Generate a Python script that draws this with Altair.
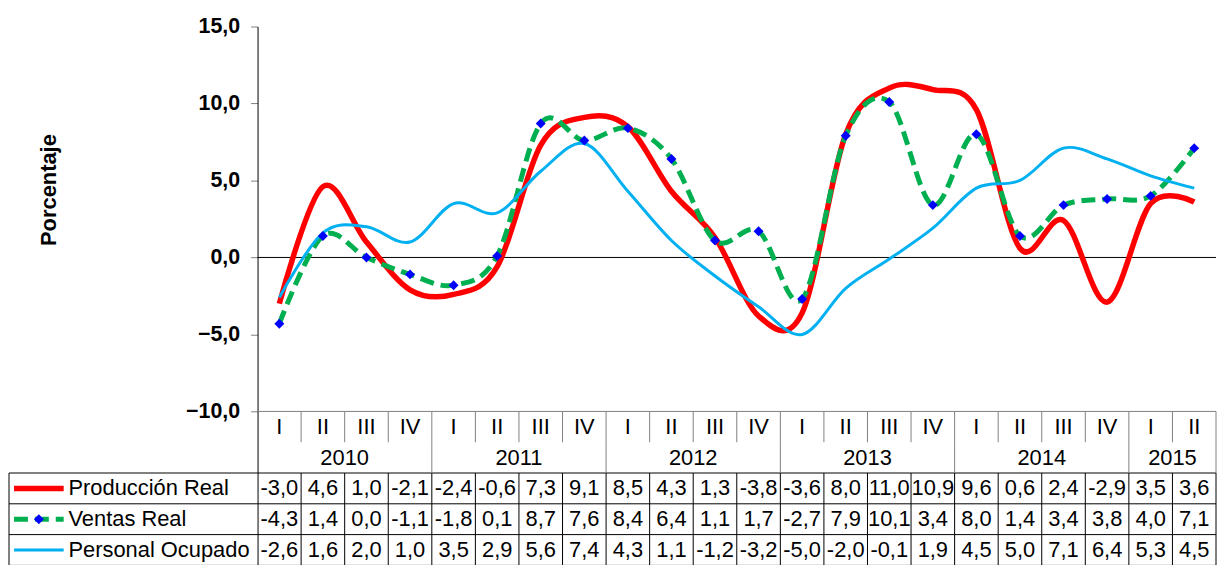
import altair as alt
import pandas as pd

# ---------------- data ----------------
QUARTERS = ["I", "II", "III", "IV"] * 5 + ["I", "II"]
YEARS = ["2010", "2011", "2012", "2013", "2014", "2015"]
YEAR_QUARTERS = [4, 4, 4, 4, 4, 2]
SERIES = ["Producción Real", "Ventas Real", "Personal Ocupado"]
PRODUCCION = [-3.0, 4.6, 1.0, -2.1, -2.4, -0.6, 7.3, 9.1, 8.5, 4.3, 1.3, -3.8,
              -3.6, 8.0, 11.0, 10.9, 9.6, 0.6, 2.4, -2.9, 3.5, 3.6]
VENTAS = [-4.3, 1.4, 0.0, -1.1, -1.8, 0.1, 8.7, 7.6, 8.4, 6.4, 1.1, 1.7,
          -2.7, 7.9, 10.1, 3.4, 8.0, 1.4, 3.4, 3.8, 4.0, 7.1]
PERSONAL = [-2.6, 1.6, 2.0, 1.0, 3.5, 2.9, 5.6, 7.4, 4.3, 1.1, -1.2, -3.2,
            -5.0, -2.0, -0.1, 1.9, 4.5, 5.0, 7.1, 6.4, 5.3, 4.5]
Y_TICKS = [-10, -5, 0, 5, 10, 15]

# ---------------- layout (data units) ----------------
N = len(QUARTERS)
Y_MIN, Y_MAX = -20, 15
AXIS_MIN = -10
ROW_Q, ROW_Y = -11, -13
ROW_S = [-15, -17, -19]
LEFT_EDGE = -5.705
SW_X1, SW_X2 = -5.59, -4.45
LABEL_X = -4.34
FONT = "Liberation Sans"
COLORS = ["#FF0000", "#00B050", "#00B0F0"]
DASH = [14, 7]

xs = alt.Scale(domain=[0, N], nice=False, zero=False)
ys = alt.Scale(domain=[Y_MIN, Y_MAX], nice=False, zero=False)

y_axis = alt.Axis(
    values=Y_TICKS, grid=False, domain=True, domainColor="#000000", domainWidth=1,
    ticks=True, tickColor="#808080", tickSize=7, tickWidth=1,
    labelExpr="replace(format(datum.value, '.1f'), '.', ',')",
    labelFont=FONT, labelFontSize=21.5, labelFontWeight="bold", labelColor="#000000",
    labelPadding=11,
    title="Porcentaje", titleFont=FONT, titleFontSize=22, titleFontWeight="bold",
    titleColor="#000000", titleX=-210, titleY=164, titleBaseline="middle", titleAngle=270,
)


def X(f="x"):
    return alt.X(f"{f}:Q", scale=xs, axis=None)


def Y(f="y"):
    return alt.Y(f"{f}:Q", scale=ys, axis=y_axis)


def fmt(v):
    return f"{v:.1f}".replace(".", ",")


series_vals = [PRODUCCION, VENTAS, PERSONAL]

# line data
line_dfs = []
for s, vals in zip(SERIES, series_vals):
    line_dfs.append(pd.DataFrame({"x": [i + 0.5 for i in range(N)], "y": vals, "s": s}))

# ---------- rules (table grid, zero line) ----------
rules = []
GRAY = "#808080"
BLACK = "#000000"
rules.append(dict(x=0, x2=N, y=0, y2=0, c=BLACK))
rules.append(dict(x=0, x2=N, y=AXIS_MIN, y2=AXIS_MIN, c=GRAY))
for yy in [-14, -16, -18, -20]:
    rules.append(dict(x=LEFT_EDGE, x2=N, y=yy, y2=yy, c=BLACK))
rules.append(dict(x=LEFT_EDGE, x2=LEFT_EDGE, y=-14, y2=-20, c=BLACK))
rules.append(dict(x=N, x2=N, y=-10, y2=-14, c=GRAY))
rules.append(dict(x=N, x2=N, y=-14, y2=-20, c=BLACK))
for i in range(1, N):
    rules.append(dict(x=i, x2=i, y=-10, y2=-12, c=GRAY))
    rules.append(dict(x=i, x2=i, y=-14, y2=-20, c=BLACK))
acc = 0
for q in YEAR_QUARTERS[:-1]:
    acc += q
    rules.append(dict(x=acc, x2=acc, y=-12, y2=-14, c=GRAY))
rules_df = pd.DataFrame(rules)

rule_layer = alt.Chart(rules_df).mark_rule(strokeWidth=1).encode(
    x=X(), x2="x2:Q", y=Y(), y2="y2:Q", color=alt.Color("c:N", scale=None)
)

# ---------- table text ----------
texts = []
for i, q in enumerate(QUARTERS):
    texts.append(dict(x=i + 0.5, y=ROW_Q, t=q))
start = 0
for yr, q in zip(YEARS, YEAR_QUARTERS):
    texts.append(dict(x=start + q / 2, y=ROW_Y, t=yr))
    start += q
for row, vals in zip(ROW_S, series_vals):
    for i, v in enumerate(vals):
        texts.append(dict(x=i + 0.5, y=row, t=fmt(v)))
text_df = pd.DataFrame(texts)
text_layer = alt.Chart(text_df).mark_text(
    font=FONT, fontSize=22, align="center", baseline="middle", color="#000000"
).encode(x=X(), y=Y(), text="t:N")

names_df = pd.DataFrame({"x": [LABEL_X] * 3, "y": ROW_S, "t": SERIES})
names_layer = alt.Chart(names_df).mark_text(
    font=FONT, fontSize=22, align="left", baseline="middle", color="#000000"
).encode(x=X(), y=Y(), text="t:N")

# ---------- legend swatches ----------
sw = [pd.DataFrame({"x": [SW_X1], "x2": [SW_X2], "y": [r]}) for r in ROW_S]
sw_red = alt.Chart(sw[0]).mark_rule(color=COLORS[0], strokeWidth=5.5).encode(x=X(), x2="x2:Q", y=Y())
sw_green = alt.Chart(sw[1]).mark_rule(color=COLORS[1], strokeWidth=5, strokeDash=DASH).encode(x=X(), x2="x2:Q", y=Y())
sw_pt = alt.Chart(pd.DataFrame({"x": [(SW_X1 + SW_X2) / 2], "y": [ROW_S[1]]})).mark_point(
    shape="diamond", filled=True, size=100, color="#0000FF", opacity=1
).encode(x=X(), y=Y())
sw_cyan = alt.Chart(sw[2]).mark_rule(color=COLORS[2], strokeWidth=3).encode(x=X(), x2="x2:Q", y=Y())

# ---------- lines ----------
red_line = alt.Chart(line_dfs[0]).mark_line(
    color=COLORS[0], strokeWidth=5.5, interpolate="cardinal"
).encode(x=X(), y=Y())
green_line = alt.Chart(line_dfs[1]).mark_line(
    color=COLORS[1], strokeWidth=5, strokeDash=DASH, interpolate="cardinal"
).encode(x=X(), y=Y())
cyan_line = alt.Chart(line_dfs[2]).mark_line(
    color=COLORS[2], strokeWidth=3, interpolate="cardinal"
).encode(x=X(), y=Y())
diamonds = alt.Chart(line_dfs[1]).mark_point(
    shape="diamond", filled=True, size=100, color="#0000FF", opacity=1
).encode(x=X(), y=Y())

chart = alt.layer(
    rule_layer, red_line, green_line, cyan_line, diamonds,
    text_layer, names_layer, sw_red, sw_green, sw_pt, sw_cyan
).properties(
    width=964, height=542,
    padding={"left": 0, "top": 6, "right": 0, "bottom": 0},
    background="#FFFFFF",
).configure_view(stroke=None)

chart.save("out.html", embed_options={"renderer": "svg", "actions": False})
